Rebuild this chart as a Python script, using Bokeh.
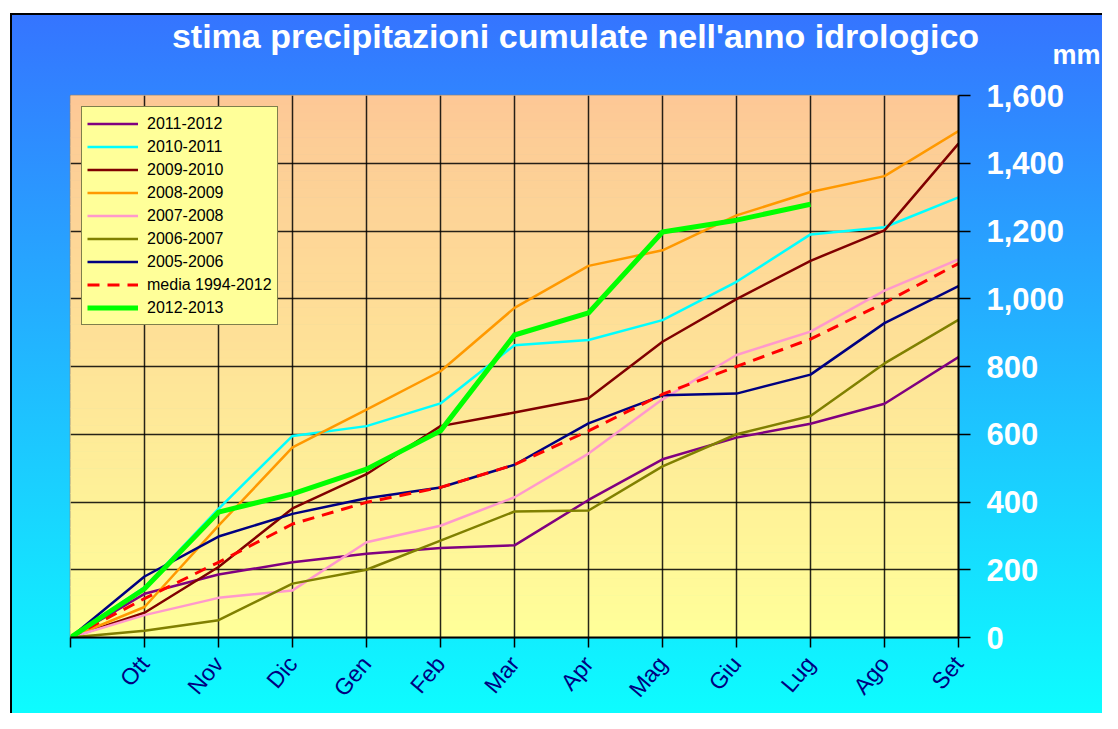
import numpy as np
from bokeh.plotting import figure
from bokeh.models import (Range1d, FixedTicker, Label, Legend, LegendItem,
                          NumeralTickFormatter)
from bokeh.embed import file_html
from bokeh.resources import INLINE

# ---------------- data ----------------
months = ["", "Ott", "Nov", "Dic", "Gen", "Feb", "Mar", "Apr", "Mag", "Giu", "Lug", "Ago", "Set"]
y_ticks = [0, 200, 400, 600, 800, 1000, 1200, 1400, 1600]

s_2011_2012 = [0, 129, 186, 222, 247, 264, 272, 406, 526, 590, 631, 690, 828]
s_2010_2011 = [0, 148, 380, 595, 624, 691, 863, 878, 937, 1050, 1190, 1211, 1299]
s_2009_2010 = [0, 73, 208, 381, 482, 624, 664, 706, 873, 999, 1112, 1202, 1458]
s_2008_2009 = [0, 90, 330, 561, 673, 786, 973, 1097, 1143, 1246, 1315, 1362, 1495]
s_2007_2008 = [0, 66, 117, 139, 281, 330, 414, 543, 703, 834, 903, 1024, 1116]
s_2006_2007 = [0, 20, 51, 159, 200, 286, 372, 375, 505, 600, 654, 809, 938]
s_2005_2006 = [0, 180, 298, 365, 411, 443, 510, 632, 715, 720, 776, 928, 1037]
media_1994_2012 = [0, 115, 222, 335, 399, 443, 510, 610, 718, 800, 881, 988, 1104]
s_2012_2013 = [0, 144, 370, 424, 497, 610, 893, 958, 1197, 1232, 1279]

series = [
    ("2011-2012", s_2011_2012, "#800080", 2.5, None),
    ("2010-2011", s_2010_2011, "#00FFFF", 2.5, None),
    ("2009-2010", s_2009_2010, "#800000", 2.5, None),
    ("2008-2009", s_2008_2009, "#FF9900", 2.5, None),
    ("2007-2008", s_2007_2008, "#FF99CC", 2.5, None),
    ("2006-2007", s_2006_2007, "#808000", 2.5, None),
    ("2005-2006", s_2005_2006, "#000080", 2.5, None),
    ("media 1994-2012", media_1994_2012, "#FF0000", 3, "12 8"),
    ("2012-2013", s_2012_2013, "#00FF00", 5, None),
]

FONT = "Liberation Sans"

p = figure(width=1102, height=713, output_backend="svg", toolbar_location=None,
           x_range=Range1d(0, 12), y_range=Range1d(0, 1600),
           y_axis_location="right",
           min_border_left=70, min_border_right=144, min_border_top=95, min_border_bottom=75)

p.border_fill_color = None
p.background_fill_color = None
p.outline_line_color = "#808080"
p.outline_line_width = 1.5
p.styles = {
    "background": ("linear-gradient(#000,#000) 10px 13px / 2px 100% no-repeat, "
                   "linear-gradient(#000,#000) 10px 13px / 100% 2px no-repeat, "
                   "linear-gradient(to bottom, #3574ff, #0cffff) 10px 13px / 100% 100% no-repeat, "
                   "#ffffff")
}

# plot-area gradient (peach top -> light yellow bottom)
nb = 64
edges = np.linspace(0, 1600, nb + 1)
top_c = np.array([253, 200, 150])
bot_c = np.array([255, 255, 153])
cols = []
for i in range(nb):
    t = (edges[i] + edges[i + 1]) / 2 / 1600
    c = bot_c + (top_c - bot_c) * t
    cols.append("#%02x%02x%02x" % tuple(int(round(v)) for v in c))
bands = p.quad(left=0, right=12, bottom=edges[:-1], top=edges[1:], fill_color=cols,
               line_color=cols, line_width=1)
bands.level = "image"

# grid
p.xgrid.ticker = FixedTicker(ticks=list(range(1, 12)))
p.ygrid.ticker = FixedTicker(ticks=y_ticks[1:-1])
p.xgrid.grid_line_color = "black"
p.ygrid.grid_line_color = "black"
p.xgrid.grid_line_width = 1.5
p.ygrid.grid_line_width = 1.5
p.xgrid.grid_line_alpha = 0.85
p.ygrid.grid_line_alpha = 0.85

# x axis
xa = p.xaxis[0]
xa.ticker = FixedTicker(ticks=list(range(13)))
xa.major_label_overrides = {i: months[i] for i in range(13)}
xa.axis_line_color = "black"
xa.axis_line_width = 2
xa.major_tick_out = 10
xa.major_tick_in = 0
xa.major_tick_line_width = 1.5
xa.minor_tick_line_color = None
xa.major_label_text_color = "#000080"
xa.major_label_text_font = FONT
xa.major_label_text_font_size = "23px"
xa.major_label_orientation = 0.87
xa.major_label_standoff = 12

# y axis (right)
ya = p.yaxis[0]
ya.ticker = FixedTicker(ticks=y_ticks)
ya.formatter = NumeralTickFormatter(format="0,0")
ya.axis_line_color = "black"
ya.axis_line_width = 2
ya.major_tick_out = 12
ya.major_tick_in = 0
ya.major_tick_line_width = 1.5
ya.minor_tick_line_color = None
ya.major_label_text_color = "white"
ya.major_label_text_font = FONT
ya.major_label_text_font_style = "bold"
ya.major_label_text_font_size = "31px"
ya.major_label_standoff = 16

items = []
for name, vals, color, lw, dash in series:
    x = list(range(len(vals)))
    kw = dict(line_color=color, line_width=lw, line_join="round")
    if dash:
        kw["line_dash"] = dash
    r = p.line(x, vals, **kw)
    items.append(LegendItem(label=name, renderers=[r]))

legend = Legend(items=items, location=(11, 312))
legend.background_fill_color = "#FFFF99"
legend.background_fill_alpha = 1
legend.border_line_color = "black"
legend.border_line_width = 1.5
legend.label_text_font = FONT
legend.label_text_font_size = "16px"
legend.label_text_color = "black"
legend.glyph_width = 51
legend.glyph_height = 23
legend.label_height = 23
legend.spacing = 0
legend.padding = 5
legend.margin = 0
legend.label_standoff = 9
p.add_layout(legend)

# title (absolute canvas coordinates, in the top border panel)
title = Label(x=575, y=35, x_units="canvas", y_units="canvas",
              text="stima precipitazioni cumulate nell'anno idrologico",
              text_align="center", text_baseline="alphabetic", text_color="white",
              text_font=FONT, text_font_style="bold", text_font_size="34px")
p.add_layout(title, "above")

# unit label (placed in the empty left border panel, absolute canvas coordinates)
mm = Label(x=1052, y=54, x_units="canvas", y_units="canvas", text="mm",
           text_align="left", text_baseline="alphabetic",
           text_color="white", text_font=FONT, text_font_style="bold",
           text_font_size="27px")
p.add_layout(mm, "left")

open("out.html", "w").write(file_html(p, INLINE))
